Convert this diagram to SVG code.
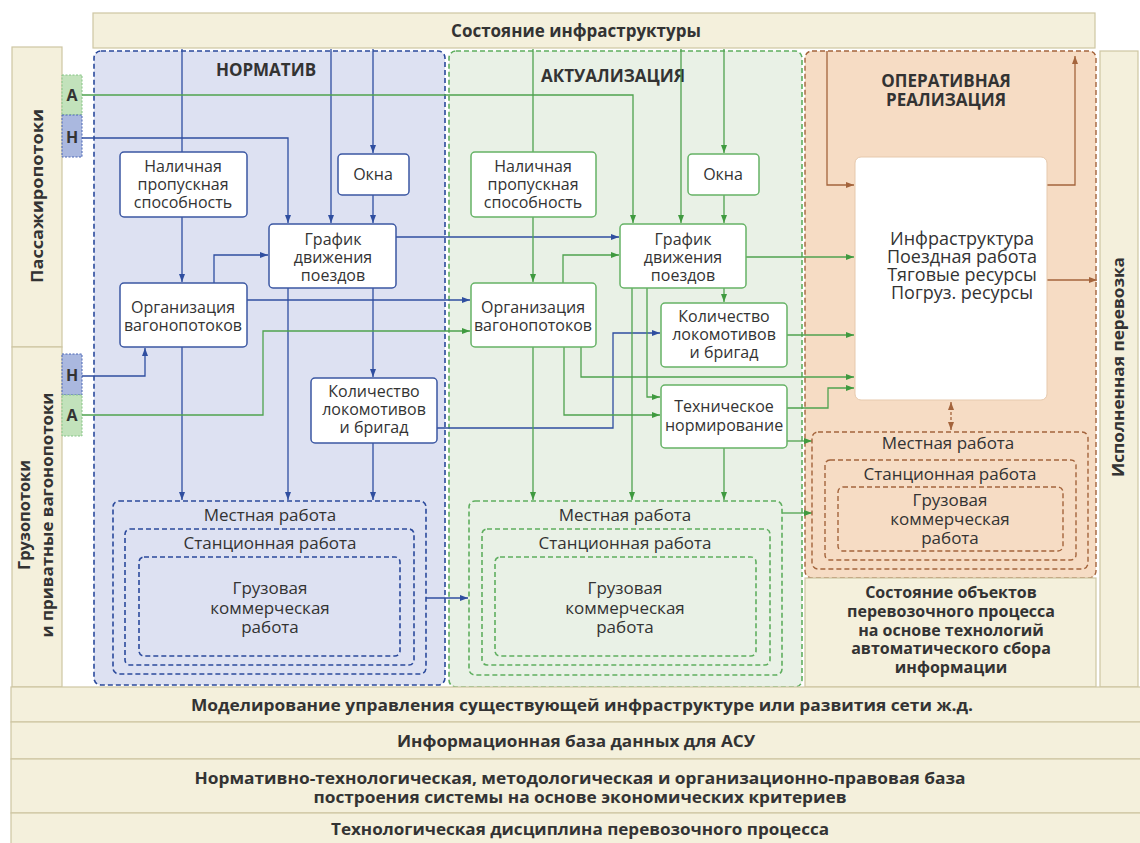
<svg xmlns="http://www.w3.org/2000/svg" width="1140" height="843" viewBox="0 0 1140 843">
<style>
 text{font-family:"Open Sans","DejaVu Sans",sans-serif;fill:#333;text-anchor:middle;font-size:16px}
 .b{font-weight:bold}
 .t17{font-size:17px}
 .t18{font-size:18px}
 .cream{fill:#f4f0dc;stroke:#cdc6a2;stroke-width:1.2}
 .nb{fill:#fff;stroke:#3b57a3;stroke-width:1.5}
 .ng{fill:#fff;stroke:#66b266;stroke-width:1.5}
 .db{fill:none;stroke:#2b4a9c;stroke-width:1.6;stroke-dasharray:5 3}
 .dg{fill:none;stroke:#5fae5f;stroke-width:1.6;stroke-dasharray:5 3}
 .dr{fill:none;stroke:#a4643c;stroke-width:1.4;stroke-dasharray:5 3}
 .lb{fill:none;stroke:#2f4ea0;stroke-width:1.3}
 .lg{fill:none;stroke:#4fa24f;stroke-width:1.3}
 .lr{fill:none;stroke:#a4643c;stroke-width:1.3}
 .mb{marker-end:url(#ab)}
 .mg{marker-end:url(#ag)}
 .mr{marker-end:url(#ar)}
</style>
<defs>
 <marker id="ab" markerWidth="8" markerHeight="6" refX="8" refY="3" orient="auto" markerUnits="userSpaceOnUse"><path d="M0,0L8,3L0,6z" fill="#2f4ea0"/></marker>
 <marker id="ag" markerWidth="8" markerHeight="6" refX="8" refY="3" orient="auto" markerUnits="userSpaceOnUse"><path d="M0,0L8,3L0,6z" fill="#3f9a3f"/></marker>
 <marker id="ar" markerWidth="8" markerHeight="6" refX="8" refY="3" orient="auto" markerUnits="userSpaceOnUse"><path d="M0,0L8,3L0,6z" fill="#a4643c"/></marker>
 <marker id="ars" markerWidth="8" markerHeight="6" refX="0" refY="3" orient="auto" markerUnits="userSpaceOnUse"><path d="M8,0L0,3L8,6z" fill="#a4643c"/></marker>
</defs>

<!-- background bands -->
<g id="top-band">
 <rect class="cream" x="93" y="13" width="1002" height="35"/>
 <text class="b t17" x="576" y="37">Состояние инфраструктуры</text>
</g>
<g id="left-passenger">
 <rect class="cream" x="12" y="47" width="50" height="300"/>
 <text class="b" transform="translate(37,196) rotate(-90)" dominant-baseline="central" textLength="174" lengthAdjust="spacingAndGlyphs">Пассажиропотоки</text>
</g>
<g id="left-freight">
 <rect class="cream" x="12" y="347" width="50" height="340"/>
 <text class="b" transform="translate(24,515) rotate(-90)" dominant-baseline="central" textLength="110" lengthAdjust="spacingAndGlyphs">Грузопотоки</text>
 <text class="b" transform="translate(47,515) rotate(-90)" dominant-baseline="central" textLength="245" lengthAdjust="spacingAndGlyphs">и приватные вагонопотоки</text>
</g>
<g id="right-column">
 <rect class="cream" x="1100" y="51" width="38" height="636"/>
 <text class="b" transform="translate(1118,367) rotate(-90)" dominant-baseline="central" textLength="220" lengthAdjust="spacingAndGlyphs">Исполненная перевозка</text>
</g>

<!-- containers -->
<g id="normativ">
 <rect x="94" y="51" width="351" height="634" rx="7" class="db" style="fill:#dde1f2"/>
 <text class="b t17" x="266" y="76">НОРМАТИВ</text>
</g>
<g id="aktualizaciya">
 <rect x="449" y="51" width="353" height="636" rx="7" class="dg" style="fill:#e9f1e6"/>
 <text class="b t17" x="613" y="82">АКТУАЛИЗАЦИЯ</text>
</g>
<g id="operativnaya">
 <rect x="805" y="51" width="291" height="527" rx="7" class="dr" style="fill:#f6dcc4"/>
 <text class="b t17" x="946" y="87"><tspan x="946">ОПЕРАТИВНАЯ</tspan><tspan x="946" dy="18.5">РЕАЛИЗАЦИЯ</tspan></text>
</g>
<g id="sostoyanie-obektov">
 <rect class="cream" x="805" y="578" width="291" height="109"/>
 <text class="b" x="951" y="598"><tspan x="951">Состояние объектов</tspan><tspan x="951" dy="18.8">перевозочного процесса</tspan><tspan x="951" dy="18.8">на основе технологий</tspan><tspan x="951" dy="18.8">автоматического сбора</tspan><tspan x="951" dy="18.8">информации</tspan></text>
</g>

<!-- A/H markers -->
<g id="pass-A"><rect x="62" y="75" width="20" height="40" fill="#c2e2bb" stroke="#86c486" stroke-dasharray="2 1.5"/><text class="b" x="72" y="101">А</text></g>
<g id="pass-H"><rect x="62" y="115" width="20" height="42" fill="#aab8df" stroke="#4a66b5" stroke-dasharray="2 1.5"/><text class="b" x="72" y="143">Н</text></g>
<g id="freight-H"><rect x="62" y="354" width="20" height="41" fill="#aab8df" stroke="#4a66b5" stroke-dasharray="2 1.5"/><text class="b" x="72" y="381">Н</text></g>
<g id="freight-A"><rect x="62" y="395" width="20" height="41" fill="#c2e2bb" stroke="#86c486" stroke-dasharray="2 1.5"/><text class="b" x="72" y="421">А</text></g>

<!-- connectors -->
<g id="connectors">
 <path class="lb" d="M182,49V152"/>
 <path class="lb mb" d="M182,217V282"/>
 <path class="lb mb" d="M331,49V223"/>
 <path class="lb mb" d="M373,49V153"/>
 <path class="lb mb" d="M373,195V223"/>
 <path class="lb mb" d="M82,138H288V223"/>
 <path class="lb mb" d="M214,283V255H268"/>
 <path class="lb mb" d="M396,237H619"/>
 <path class="lb mb" d="M247,300H470"/>
 <path class="lb mb" d="M288,288V500"/>
 <path class="lb mb" d="M373,288V377"/>
 <path class="lb mb" d="M373,443V500"/>
 <path class="lb mb" d="M182,347V500"/>
 <path class="lb mb" d="M82,376H145V348"/>
 <path class="lb mb" d="M437,428H613V333H660"/>
 <path class="lb mb" d="M426,598H468"/>

 <path class="lg mg" d="M82,95H633V223"/>
 <path class="lg mg" d="M82,415H263V331H470"/>
 <path class="lg" d="M533,49V152"/>
 <path class="lg mg" d="M533,217V282"/>
 <path class="lg mg" d="M681,49V223"/>
 <path class="lg mg" d="M724,49V153"/>
 <path class="lg mg" d="M724,195V223"/>
 <path class="lg mg" d="M563,283V255H619"/>
 <path class="lg mg" d="M746,257H854"/>
 <path class="lg mg" d="M724,288V302"/>
 <path class="lg mg" d="M632,288V500"/>
 <path class="lg mg" d="M647,288V397H660"/>
 <path class="lg mg" d="M533,347V500"/>
 <path class="lg mg" d="M564,347V415H660"/>
 <path class="lg mg" d="M581,347V377H854"/>
 <path class="lg mg" d="M787,335H854"/>
 <path class="lg mg" d="M787,408H828V388H854"/>
 <path class="lg mg" d="M724,448V500"/>
 <path class="lg mg" d="M787,441H812"/>
 <path class="lg mg" d="M782,513H812"/>

 <path class="lr mr" d="M827,51V185H854"/>
 <path class="lr mr" d="M1047,185H1075V56"/>
 <path class="lr mr" d="M1047,280H1097"/>
 <path class="lr" d="M951,402V430" stroke-dasharray="3 2" marker-start="url(#ars)" marker-end="url(#ar)"/>
</g>

<!-- НОРМАТИВ nodes -->
<g id="n-nalichnaya">
 <rect class="nb" x="120" y="152" width="127" height="65" rx="4"/>
 <text x="183" y="172"><tspan x="183">Наличная</tspan><tspan x="183" dy="18">пропускная</tspan><tspan x="183" dy="18">способность</tspan></text>
</g>
<g id="n-okna">
 <rect class="nb" x="338" y="154" width="71" height="41" rx="4"/>
 <text x="373" y="180">Окна</text>
</g>
<g id="n-grafik">
 <rect class="nb" x="269" y="224" width="127" height="64" rx="4"/>
 <text x="333" y="245"><tspan x="333">График</tspan><tspan x="333" dy="18">движения</tspan><tspan x="333" dy="18">поездов</tspan></text>
</g>
<g id="n-organizaciya">
 <rect class="nb" x="120" y="283" width="127" height="64" rx="4"/>
 <text x="183" y="313"><tspan x="183">Организация</tspan><tspan x="183" dy="18">вагонопотоков</tspan></text>
</g>
<g id="n-kolichestvo">
 <rect class="nb" x="311" y="378" width="126" height="65" rx="4"/>
 <text x="374" y="397"><tspan x="374">Количество</tspan><tspan x="374" dy="18">локомотивов</tspan><tspan x="374" dy="18">и бригад</tspan></text>
</g>
<g id="n-mestnaya">
 <rect class="db" x="113" y="501" width="313" height="173" rx="6"/>
 <rect class="db" x="125" y="529" width="289" height="136" rx="5"/>
 <rect class="db" x="139" y="557" width="261" height="99" rx="5"/>
 <text class="t17" x="270" y="521">Местная работа</text>
 <text class="t17" x="270" y="549">Станционная работа</text>
 <text class="t17" x="270" y="594"><tspan x="270">Грузовая</tspan><tspan x="270" dy="19.5">коммерческая</tspan><tspan x="270" dy="19.5">работа</tspan></text>
</g>

<!-- АКТУАЛИЗАЦИЯ nodes -->
<g id="a-nalichnaya">
 <rect class="ng" x="471" y="152" width="125" height="65" rx="4"/>
 <text x="533" y="172"><tspan x="533">Наличная</tspan><tspan x="533" dy="18">пропускная</tspan><tspan x="533" dy="18">способность</tspan></text>
</g>
<g id="a-okna">
 <rect class="ng" x="688" y="154" width="71" height="41" rx="4"/>
 <text x="723" y="180">Окна</text>
</g>
<g id="a-grafik">
 <rect class="ng" x="620" y="224" width="126" height="64" rx="4"/>
 <text x="683" y="245"><tspan x="683">График</tspan><tspan x="683" dy="18">движения</tspan><tspan x="683" dy="18">поездов</tspan></text>
</g>
<g id="a-organizaciya">
 <rect class="ng" x="471" y="283" width="125" height="64" rx="4"/>
 <text x="533" y="313"><tspan x="533">Организация</tspan><tspan x="533" dy="18">вагонопотоков</tspan></text>
</g>
<g id="a-kolichestvo">
 <rect class="ng" x="661" y="303" width="126" height="64" rx="4"/>
 <text x="724" y="322"><tspan x="724">Количество</tspan><tspan x="724" dy="18">локомотивов</tspan><tspan x="724" dy="18">и бригад</tspan></text>
</g>
<g id="a-tehnicheskoe">
 <rect class="ng" x="661" y="385" width="126" height="63" rx="4"/>
 <text x="724" y="412"><tspan x="724">Техническое</tspan><tspan x="724" dy="19">нормирование</tspan></text>
</g>
<g id="a-mestnaya">
 <rect class="dg" x="469" y="501" width="313" height="174" rx="6"/>
 <rect class="dg" x="482" y="529" width="288" height="136" rx="5"/>
 <rect class="dg" x="495" y="557" width="261" height="99" rx="5"/>
 <text class="t17" x="625" y="521">Местная работа</text>
 <text class="t17" x="625" y="549">Станционная работа</text>
 <text class="t17" x="625" y="594"><tspan x="625">Грузовая</tspan><tspan x="625" dy="19.5">коммерческая</tspan><tspan x="625" dy="19.5">работа</tspan></text>
</g>

<!-- ОПЕРАТИВНАЯ nodes -->
<g id="o-infrastruktura">
 <rect x="855" y="157" width="192" height="243" rx="6" fill="#fff" stroke="#e6c9ad" stroke-width="1"/>
 <text class="t18" x="962" y="245"><tspan x="962">Инфраструктура</tspan><tspan x="962" dy="18">Поездная работа</tspan><tspan x="962" dy="17.5">Тяговые ресурсы</tspan><tspan x="962" dy="18">Погруз. ресурсы</tspan></text>
</g>
<g id="o-mestnaya">
 <rect class="dr" x="812" y="432" width="276" height="137" rx="6"/>
 <rect class="dr" x="825" y="460" width="251" height="100" rx="5"/>
 <rect class="dr" x="838" y="487" width="225" height="64" rx="5"/>
 <text class="t17" x="948" y="449">Местная работа</text>
 <text class="t17" x="950" y="480">Станционная работа</text>
 <text class="t17" x="950" y="506"><tspan x="950">Грузовая</tspan><tspan x="950" dy="19">коммерческая</tspan><tspan x="950" dy="19">работа</tspan></text>
</g>

<!-- bottom bands -->
<g id="band-modelirovanie">
 <rect class="cream" x="11" y="687" width="1135" height="35"/>
 <text class="b" x="582" y="711" textLength="782" lengthAdjust="spacingAndGlyphs">Моделирование управления существующей инфраструктуре или развития сети ж.д.</text>
</g>
<g id="band-info">
 <rect class="cream" x="11" y="722" width="1135" height="37"/>
 <text class="b" x="576" y="747" textLength="358" lengthAdjust="spacingAndGlyphs">Информационная база данных для АСУ</text>
</g>
<g id="band-normativ">
 <rect class="cream" x="11" y="759" width="1135" height="54"/>
 <text class="b" x="580" y="784"><tspan x="580" textLength="771" lengthAdjust="spacingAndGlyphs">Нормативно-технологическая, методологическая и организационно-правовая база</tspan><tspan x="580" dy="19" textLength="533" lengthAdjust="spacingAndGlyphs">построения системы на основе экономических критериев</tspan></text>
</g>
<g id="band-disciplina">
 <rect class="cream" x="11" y="813" width="1135" height="35"/>
 <text class="b" x="580" y="835" textLength="498" lengthAdjust="spacingAndGlyphs">Технологическая дисциплина перевозочного процесса</text>
</g>
</svg>
